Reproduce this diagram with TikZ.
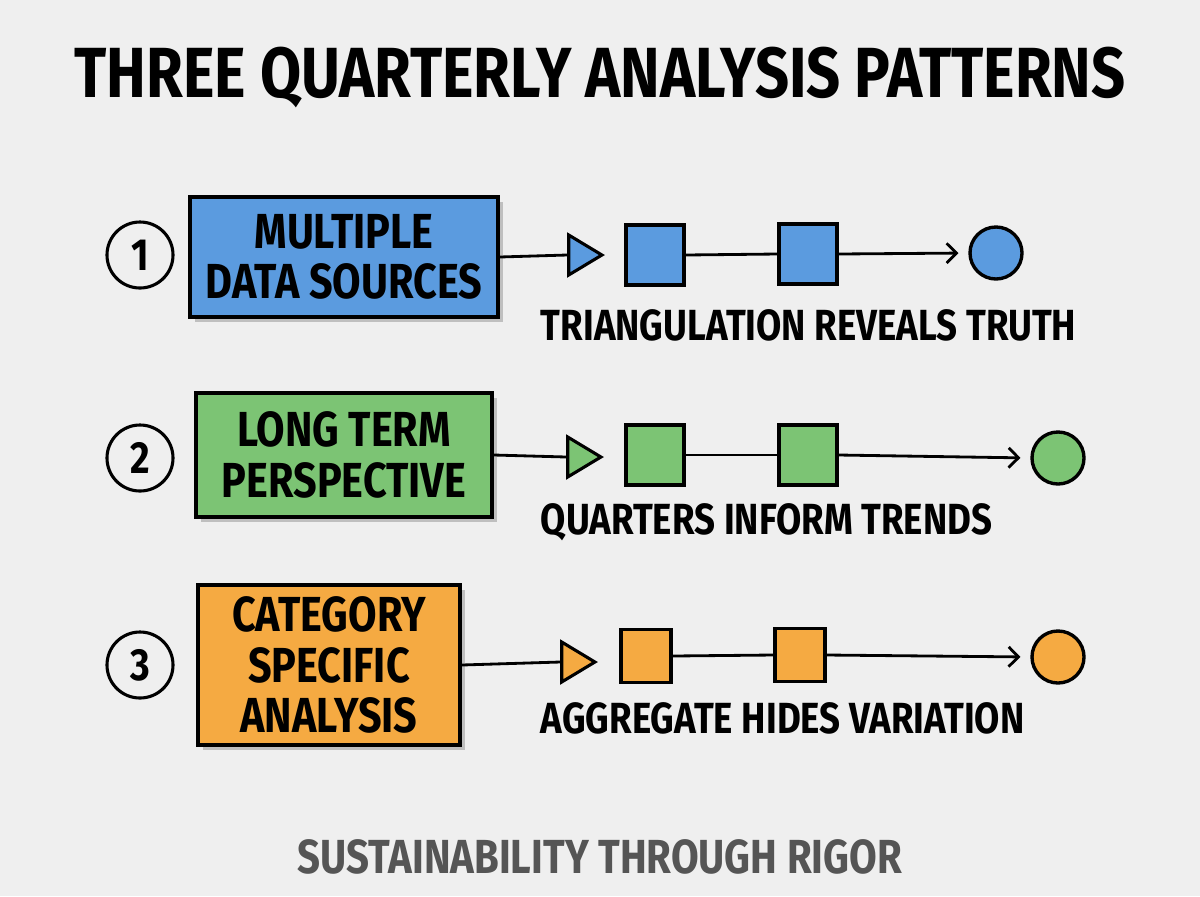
\documentclass[tikz,border=0pt]{standalone}
\usepackage{fontspec}
\setmainfont{Fira Sans}[FakeStretch=0.84]
\usepackage{tikz}
\usetikzlibrary{arrows.meta,positioning,shapes.geometric,shadows}
\definecolor{bgpaper}{RGB}{239,239,239}
\definecolor{rowblue}{RGB}{91,155,223}
\definecolor{rowgreen}{RGB}{124,196,116}
\definecolor{roworange}{RGB}{245,170,66}
\definecolor{footgray}{RGB}{85,85,85}

\begin{document}
\begin{tikzpicture}[x=0.025cm, y=-0.025cm,
  numcirc/.style={draw, line width=2.2pt, circle, minimum size=1.65cm, inner sep=0pt, font=\fontsize{32}{32}\selectfont\bfseries},
  stepbox/.style={draw, line width=2.6pt, fill=#1, align=center, inner sep=0pt,
    font=\fontsize{35}{36}\selectfont\bfseries,
    drop shadow={shadow xshift=3.5pt, shadow yshift=-3.5pt, fill=black!25, opacity=1}},
  tri/.style={draw, line width=2.2pt, fill=#1, isosceles triangle, isosceles triangle stretches, minimum width=1.0cm, minimum height=0.83cm, inner sep=0pt},
  sq/.style={draw, line width=2.4pt, fill=#1, minimum width=1.45cm, minimum height=1.5cm, inner sep=0pt},
  dot/.style={draw, line width=2.4pt, fill=#1, circle, minimum size=1.3cm, inner sep=0pt},
  caption/.style={anchor=west, font=\fontsize{31}{31}\selectfont\bfseries},
  link/.style={line width=2pt},
  flow/.style={line width=2pt, -{Straight Barb[length=7pt, width=14pt, line width=2pt]}, shorten >=7pt}]

  \useasboundingbox[fill=bgpaper] (0,0) rectangle (1200,896);

  %--- Title ---
  \node[font=\fontsize{50.5}{50.5}\selectfont\bfseries] (title) at (600,78) {THREE QUARTERLY ANALYSIS PATTERNS};

  %--- Row 1 ---
  \node[numcirc] (n1) at (140,255) {1};
  \node[stepbox=rowblue, minimum width=7.7cm, minimum height=3.0cm] (multi) at (344,257) {MULTIPLE\\DATA SOURCES};
  \node[tri=rowblue] (t1) at (580,255) {};
  \node[sq=rowblue] (s1a) at (655,255) {};
  \node[sq=rowblue] (s1b) at (808,254) {};
  \node[dot=rowblue] (d1) at (996,253) {};
  \node[caption] (c1) at (536,325) {TRIANGULATION REVEALS TRUTH};

  \draw[link] (multi.east) -- (t1.west);
  \draw[link] (s1a.east) -- (s1b.west);
  \draw[flow] (s1b.east) -- (d1.west);

  %--- Row 2 ---
  \node[numcirc] (n2) at (140,458) {2};
  \node[stepbox=rowgreen, minimum width=7.4cm, minimum height=3.1cm] (longterm) at (344,455) {LONG TERM\\PERSPECTIVE};
  \node[tri=rowgreen] (t2) at (579,457) {};
  \node[sq=rowgreen] (s2a) at (655,455) {};
  \node[sq=rowgreen] (s2b) at (808,455) {};
  \node[dot=rowgreen] (d2) at (1058,458) {};
  \node[caption] (c2) at (536,522) {QUARTERS INFORM TRENDS};

  \draw[link] (longterm.east) -- (t2.west);
  \draw[link] (s2a.east) -- (s2b.west);
  \draw[flow] (s2b.east) -- (d2.west);

  %--- Row 3 ---
  \node[numcirc] (n3) at (140,665) {3};
  \node[stepbox=roworange, minimum width=6.55cm, minimum height=4.0cm] (category) at (329,665) {CATEGORY\\SPECIFIC\\ANALYSIS};
  \node[tri=roworange] (t3) at (573,662) {};
  \node[sq=roworange, minimum width=1.25cm, minimum height=1.33cm] (s3a) at (646,656) {};
  \node[sq=roworange, minimum width=1.25cm, minimum height=1.33cm] (s3b) at (800,655) {};
  \node[dot=roworange] (d3) at (1058,657) {};
  \node[caption] (c3) at (536,718) {AGGREGATE HIDES VARIATION};

  \draw[link] (category.east) -- (t3.west);
  \draw[link] (s3a.east) -- (s3b.west);
  \draw[flow] (s3b.east) -- (d3.west);

  %--- Footer ---
  \node[font=\fontsize{34}{34}\selectfont\bfseries, text=footgray] (footer) at (600,857) {SUSTAINABILITY THROUGH RIGOR};
\end{tikzpicture}
\end{document}
